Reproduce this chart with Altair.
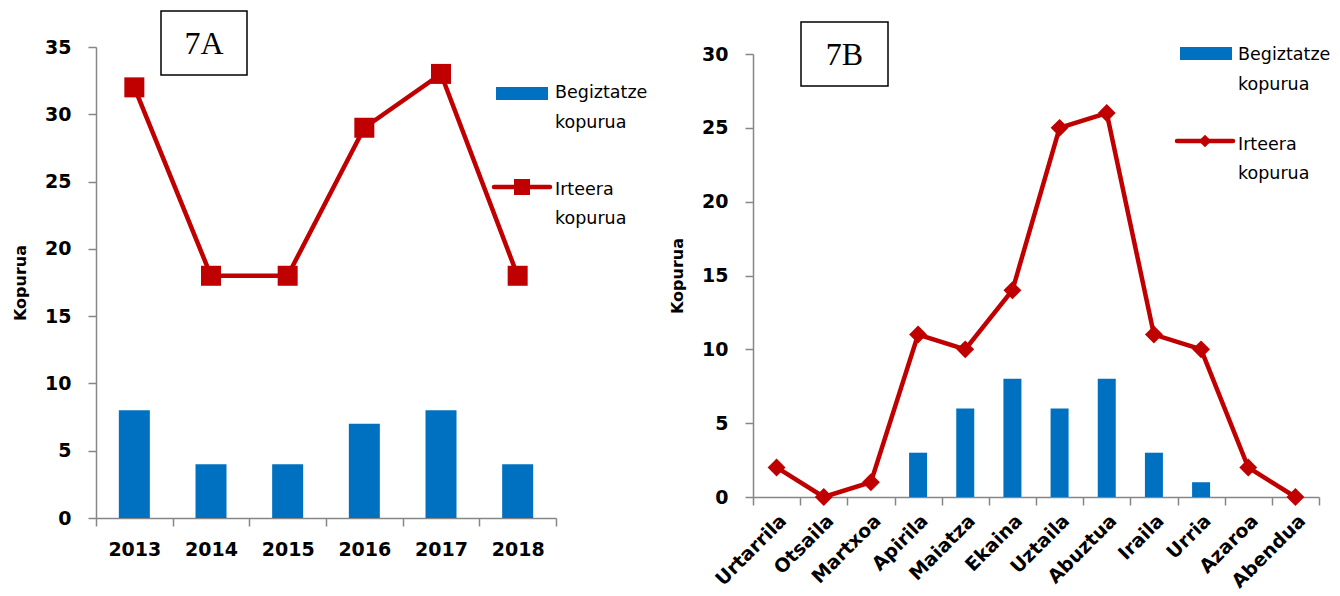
import altair as alt
import pandas as pd

# Yearly totals (panel 7A)
years = ["2013", "2014", "2015", "2016", "2017", "2018"]
loops_year = [8, 4, 4, 7, 8, 4]
exits_year = [32, 18, 18, 29, 33, 18]

# Monthly totals (panel 7B)
months = ["Urtarrila", "Otsaila", "Martxoa", "Apirila", "Maiatza", "Ekaina",
          "Uztaila", "Abuztua", "Iraila", "Urria", "Azaroa", "Abendua"]
loops_month = [0, 0, 0, 3, 6, 8, 6, 8, 3, 1, 0, 0]
exits_month = [2, 0, 1, 11, 10, 14, 25, 26, 11, 10, 2, 0]

series_bar = "Begiztatze\nkopurua"
series_line = "Irteera\nkopurua"

BLUE = "#0070C0"
RED = "#C00000"
GREY = "#868686"
SANS = "DejaVu Sans"
SERIF = "Liberation Serif"

year_df = pd.DataFrame({"cat": years, "loops": loops_year, "exits": exits_year})
month_df = pd.DataFrame({"cat": months, "loops": loops_month, "exits": exits_month})


def one(text):
    return pd.DataFrame({"t": [text]})


def panel(df, order, width, height, ydom, yticks, yrange, bar_w, shape, msize,
          label_angle, xlabel_size, tag, box, legend):
    xenc = alt.X(
        "cat:N", sort=order,
        scale=alt.Scale(paddingInner=0, paddingOuter=0),
        axis=alt.Axis(title=None, labelAngle=label_angle, tickBand="extent",
                      labelFontSize=xlabel_size, labelPadding=14 if label_angle == 0 else 6,
                      labelOverlap=False),
    )
    yscale = alt.Scale(domain=ydom, range=yrange) if yrange else alt.Scale(domain=ydom)
    yenc = alt.Y("loops:Q", scale=yscale,
                 axis=alt.Axis(title="Kopurua", values=yticks, labelPadding=17, titlePadding=16))
    base = alt.Chart(df)
    bars = base.mark_bar(color=BLUE, size=bar_w).encode(x=xenc, y=yenc)
    line = base.mark_line(color=RED, strokeWidth=4.5).encode(
        x=alt.X("cat:N", sort=order), y=alt.Y("exits:Q"))
    pts = base.mark_point(shape=shape, filled=True, opacity=1, color=RED, size=msize).encode(
        x=alt.X("cat:N", sort=order), y=alt.Y("exits:Q"))

    bx0, bx1, by0, by1 = box
    frame = alt.Chart(one(tag)).mark_rect(fill="white", stroke="black", strokeWidth=1.5).encode(
        x=alt.value(bx0), x2=alt.value(bx1), y=alt.value(by0), y2=alt.value(by1))
    tag_txt = alt.Chart(one(tag)).mark_text(font=SERIF, fontSize=32, align="center",
                                            baseline="middle", color="black").encode(
        text="t:N", x=alt.value((bx0 + bx1) / 2), y=alt.value((by0 + by1) / 2 + 1))

    lg = legend
    sw_bar = alt.Chart(one(series_bar)).mark_rect(color=BLUE).encode(
        x=alt.value(lg["bar_x"][0]), x2=alt.value(lg["bar_x"][1]),
        y=alt.value(lg["bar_y"][0]), y2=alt.value(lg["bar_y"][1]))
    sw_line = alt.Chart(one(series_line)).mark_rule(color=RED, strokeWidth=4.5, strokeCap="round").encode(
        x=alt.value(lg["line_x"][0]), x2=alt.value(lg["line_x"][1]), y=alt.value(lg["line_y"]))
    sw_pt = alt.Chart(one(series_line)).mark_point(shape=shape, filled=True, opacity=1,
                                                   color=RED, size=lg["pt_size"]).encode(
        x=alt.value((lg["line_x"][0] + lg["line_x"][1]) / 2), y=alt.value(lg["line_y"]))
    txt_bar = alt.Chart(one(series_bar)).mark_text(font=SANS, fontSize=17.5, align="left",
                                                   baseline="alphabetic", lineBreak="\n",
                                                   lineHeight=30, color="black").encode(
        text="t:N", x=alt.value(lg["text_x"]), y=alt.value(lg["bar_text_y"]))
    txt_line = alt.Chart(one(series_line)).mark_text(font=SANS, fontSize=17.5, align="left",
                                                     baseline="alphabetic", lineBreak="\n",
                                                     lineHeight=29, color="black").encode(
        text="t:N", x=alt.value(lg["text_x"]), y=alt.value(lg["line_text_y"]))

    return alt.layer(bars, line, pts, frame, tag_txt, sw_bar, sw_line, sw_pt, txt_bar, txt_line
                     ).properties(width=width, height=height)


left = panel(
    year_df, years, 460, 471, [0, 35], list(range(0, 36, 5)), None, 31, "square", 400,
    0, 19, "7A", (65, 151, -36, 28),
    dict(bar_x=(400, 452), bar_y=(40, 53), line_x=(398, 454), line_y=140, pt_size=256,
         text_x=459, bar_text_y=51, line_text_y=148),
)

right = panel(
    month_df, months, 566, 450, [0, 30], list(range(0, 31, 5)), [450, 7], 18, "diamond", 320,
    -45, 19, "7B", (48, 135, -25, 39),
    dict(bar_x=(427, 479), bar_y=(0, 13), line_x=(424, 480), line_y=94, pt_size=160,
         text_x=485, bar_text_y=13, line_text_y=103),
)

chart = alt.hconcat(left, right, spacing=197, bounds="flush").properties(
    padding={"left": 12, "top": 10, "right": 5, "bottom": 5},
    background="white",
).configure_view(stroke=None).configure_axis(
    domainColor=GREY, domainWidth=1.5, tickColor=GREY, tickWidth=1.5, tickSize=8,
    labelFont=SANS, labelFontWeight="bold", labelFontSize=19, labelColor="black",
    titleFont=SANS, titleFontWeight="bold", titleFontSize=16, titleColor="black",
    grid=False,
)

chart.save("out.html", embed_options={"renderer": "svg", "actions": False})
